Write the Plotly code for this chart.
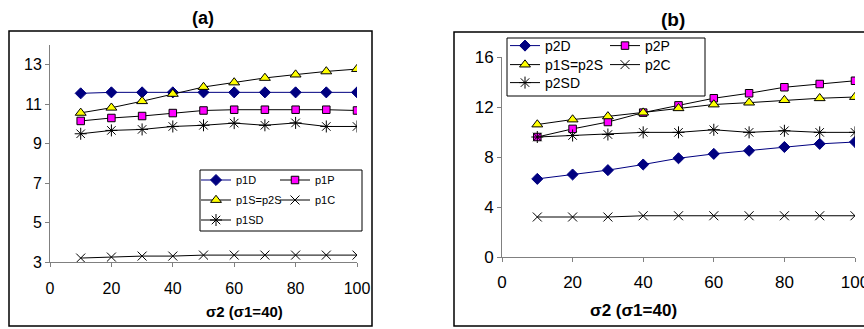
import plotly.graph_objects as go

W, H = 864, 329
x_vals = [10, 20, 30, 40, 50, 60, 70, 80, 90, 100]

# Panel (a)
p1D = [11.55, 11.6, 11.6, 11.6, 11.6, 11.6, 11.6, 11.6, 11.6, 11.6]
p1P = [10.15, 10.3, 10.4, 10.55, 10.68, 10.72, 10.72, 10.72, 10.72, 10.68]
p1S_p2S = [10.56, 10.82, 11.15, 11.52, 11.87, 12.1, 12.33, 12.5, 12.66, 12.78]
p1C = [3.2, 3.25, 3.3, 3.3, 3.35, 3.35, 3.35, 3.35, 3.35, 3.35]
p1SD = [9.5, 9.67, 9.72, 9.87, 9.93, 10.04, 9.93, 10.05, 9.87, 9.87]

# Panel (b)
p2D = [6.25, 6.6, 6.95, 7.4, 7.9, 8.25, 8.5, 8.8, 9.05, 9.2]
p2P = [9.6, 10.25, 10.8, 11.55, 12.13, 12.7, 13.1, 13.58, 13.84, 14.1]
p1S_p2S_b = [10.6, 11.0, 11.25, 11.55, 11.9, 12.2, 12.35, 12.55, 12.7, 12.8]
p2C = [3.2, 3.2, 3.2, 3.3, 3.3, 3.3, 3.3, 3.3, 3.3, 3.3]
p2SD = [9.6, 9.72, 9.8, 9.97, 9.97, 10.18, 9.97, 10.1, 9.97, 9.97]

x_ticks = [0, 20, 40, 60, 80, 100]
y_ticks_a = [3, 5, 7, 9, 11, 13]
y_ticks_b = [0, 4, 8, 12, 16]

FONT = "Liberation Sans, Arial, sans-serif"

def px(x):
    return x / W

def py(y):
    return 1 - y / H

styles = {
    "D": dict(line=dict(color="#000080", width=1),
              marker=dict(symbol="diamond", size=8.5, color="#000080", line=dict(color="#000080", width=1))),
    "P": dict(line=dict(color="black", width=1),
              marker=dict(symbol="square", size=7.5, color="#FF00FF", line=dict(color="black", width=1))),
    "S": dict(line=dict(color="black", width=1),
              marker=dict(symbol="triangle-up", size=9.5, color="#FFFF00", line=dict(color="black", width=1))),
    "C": dict(line=dict(color="black", width=1),
              marker=dict(symbol="x-thin-open", size=9, color="black", line=dict(color="black", width=1))),
    "SD": dict(line=dict(color="black", width=1),
               marker=dict(symbol="asterisk-open", size=10, color="black", line=dict(color="black", width=1))),
}

fig = go.Figure()

def add(name, y, key, xa, ya, leg):
    st = styles[key]
    fig.add_trace(go.Scatter(x=x_vals, y=y, name=name, mode="lines+markers",
                             line=st["line"], marker=st["marker"],
                             xaxis=xa, yaxis=ya, legend=leg))

add("p1D", p1D, "D", "x", "y", "legend")
add("p1P", p1P, "P", "x", "y", "legend")
add("p1S=p2S", p1S_p2S, "S", "x", "y", "legend2")
add("p1C", p1C, "C", "x", "y", "legend2")
add("p1SD", p1SD, "SD", "x", "y", "legend3")

add("p2D", p2D, "D", "x2", "y2", "legend4")
add("p2P", p2P, "P", "x2", "y2", "legend4")
add("p1S=p2S", p1S_p2S_b, "S", "x2", "y2", "legend5")
add("p2C", p2C, "C", "x2", "y2", "legend5")
add("p2SD", p2SD, "SD", "x2", "y2", "legend6")

ax_common = dict(showgrid=False, zeroline=False, showline=True, linecolor="#808080",
                 linewidth=1, ticks="outside", ticklen=4, tickcolor="#808080",
                 color="black", automargin=False, ticklabeloverflow="allow")

def leg(x, y, size, ew):
    return dict(x=px(x), y=py(y), xanchor="left", yanchor="middle",
                orientation="h", entrywidth=ew, entrywidthmode="pixels",
                bgcolor="rgba(0,0,0,0)", borderwidth=0, font=dict(size=size))

fig.update_layout(
    width=W, height=H,
    autosize=False,
    margin=dict(l=0, r=0, t=0, b=0, pad=0, autoexpand=False),
    paper_bgcolor="white", plot_bgcolor="white",
    font=dict(family=FONT, color="black"),
    showlegend=True,
    xaxis=dict(domain=[px(50), px(357)], range=[0, 100], tickvals=x_ticks,
               tickfont=dict(size=16), anchor="y", ticklabelstandoff=8, **ax_common),
    yaxis=dict(domain=[py(262), py(45)], range=[3, 14], tickvals=y_ticks_a,
               tickfont=dict(size=16), anchor="x", **ax_common),
    xaxis2=dict(domain=[px(502), px(855)], range=[0, 100], tickvals=x_ticks,
                tickfont=dict(size=17), anchor="y2", ticklabelstandoff=6, **ax_common),
    yaxis2=dict(domain=[py(257), py(57)], range=[0, 16], tickvals=y_ticks_b,
                tickfont=dict(size=17), anchor="x2", **ax_common),
    legend=leg(196, 180, 11, 34),
    legend2=leg(196, 200, 11, 34),
    legend3=leg(196, 220, 11, 34),
    legend4=leg(505, 46, 14, 55),
    legend5=leg(505, 65, 14, 55),
    legend6=leg(505, 83, 14, 55),
)

# panel frames and legend frames
shapes = [
    dict(type="rect", xref="paper", yref="paper", x0=px(9), x1=px(372), y0=py(326), y1=py(31),
         line=dict(color="black", width=1.5)),
    dict(type="rect", xref="paper", yref="paper", x0=px(454), x1=px(875), y0=py(326), y1=py(32),
         line=dict(color="black", width=1.5)),
    dict(type="rect", xref="paper", yref="paper", x0=px(200), x1=px(362), y0=py(231), y1=py(170),
         line=dict(color="black", width=1)),
    dict(type="rect", xref="paper", yref="paper", x0=px(507), x1=px(705), y0=py(96), y1=py(38),
         line=dict(color="black", width=1)),
]
fig.update_layout(shapes=shapes)

annotations = [
    dict(text="<b>(a)</b>", x=px(190), y=py(18), xref="paper", yref="paper",
         showarrow=False, font=dict(size=18), yanchor="middle"),
    dict(text="<b>(b)</b>", x=px(687), y=py(19), xref="paper", yref="paper",
         showarrow=False, font=dict(size=19), yanchor="middle"),
    dict(text="<b>σ2 (σ1=40)</b>", x=px(204), y=py(311), xref="paper", yref="paper",
         showarrow=False, font=dict(size=15), yanchor="middle"),
    dict(text="<b>σ2 (σ1=40)</b>", x=px(679), y=py(310), xref="paper", yref="paper",
         showarrow=False, font=dict(size=17), yanchor="middle"),
]
fig.update_layout(annotations=annotations)

fig.write_html("out.html", config={"displayModeBar": False},
               post_script="document.body.style.margin='0';")
